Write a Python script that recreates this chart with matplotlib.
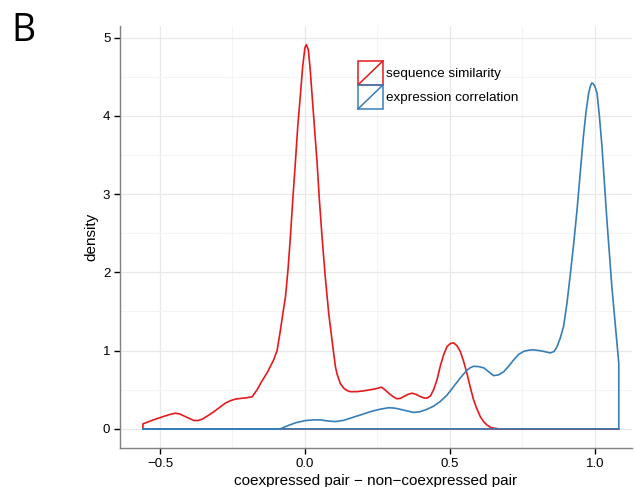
import matplotlib
matplotlib.use("Agg")
from matplotlib import pyplot as plt
from matplotlib.legend_handler import HandlerBase
from matplotlib.patches import Rectangle
from matplotlib.lines import Line2D

plt.rcParams["font.family"] = ["Liberation Sans", "DejaVu Sans"]

# density of sequence similarity difference
seq_x = [-0.559, -0.559, -0.516, -0.47, -0.447, -0.432, -0.418, -0.40, -0.383, -0.368, -0.354,
         -0.334, -0.314, -0.294, -0.274, -0.257, -0.24, -0.22, -0.205, -0.182, -0.165, -0.15,
         -0.13, -0.108, -0.096, -0.085, -0.075, -0.067, -0.058, -0.05, -0.042, -0.033, -0.025,
         -0.016, -0.008, 0.0, 0.005, 0.012, 0.018, 0.025, 0.033, 0.042, 0.05, 0.059, 0.07,
         0.082, 0.094, 0.105, 0.111, 0.122, 0.134, 0.145, 0.157, 0.18, 0.203, 0.237, 0.252,
         0.264, 0.276, 0.289, 0.305, 0.318, 0.33, 0.341, 0.355, 0.37, 0.384, 0.398, 0.41,
         0.421, 0.433, 0.444, 0.456, 0.467, 0.478, 0.49, 0.502, 0.513, 0.525, 0.536, 0.547,
         0.559, 0.57, 0.582, 0.594, 0.605, 0.617, 0.628, 0.64, 0.651, 0.67, 1.083]
seq_y = [0.0, 0.064, 0.124, 0.18, 0.2, 0.19, 0.166, 0.135, 0.106, 0.108, 0.124,
         0.17, 0.22, 0.275, 0.33, 0.36, 0.38, 0.39, 0.395, 0.41, 0.5, 0.6,
         0.72, 0.88, 1.0, 1.25, 1.5, 1.69, 2.05, 2.46, 2.92, 3.4, 3.85,
         4.25, 4.62, 4.87, 4.91, 4.84, 4.6, 4.25, 3.85, 3.4, 2.92, 2.46, 1.95,
         1.48, 1.12, 0.8, 0.7, 0.58, 0.52, 0.49, 0.475, 0.476, 0.486, 0.507, 0.52,
         0.533, 0.5, 0.456, 0.41, 0.384, 0.39, 0.413, 0.44, 0.456, 0.44, 0.413, 0.395,
         0.392, 0.42, 0.5, 0.63, 0.8, 0.94, 1.05, 1.09, 1.1, 1.06, 0.99, 0.87,
         0.71, 0.54, 0.37, 0.25, 0.157, 0.09, 0.05, 0.02, 0.01, 0.0, 0.0]

# density of expression correlation difference
expr_x = [-0.559, -0.085, -0.06, -0.03, 0.0, 0.03, 0.053, 0.08, 0.105, 0.135, 0.168, 0.198,
          0.226, 0.258, 0.289, 0.31, 0.329, 0.352, 0.375, 0.398, 0.421, 0.444, 0.467, 0.49,
          0.513, 0.536, 0.559, 0.57, 0.582, 0.6, 0.617, 0.634, 0.651, 0.668, 0.686, 0.703,
          0.72, 0.737, 0.755, 0.772, 0.789, 0.818, 0.847, 0.86, 0.87, 0.881, 0.892, 0.904,
          0.915, 0.927, 0.939, 0.95, 0.961, 0.97, 0.979, 0.985, 0.99, 0.995, 1.0, 1.008,
          1.016, 1.025, 1.042, 1.059, 1.083, 1.083]
expr_y = [0.0, 0.0, 0.04, 0.08, 0.105, 0.115, 0.115, 0.1, 0.093, 0.11, 0.15, 0.185,
          0.22, 0.25, 0.27, 0.265, 0.25, 0.23, 0.21, 0.22, 0.25, 0.29, 0.35, 0.43,
          0.54, 0.65, 0.75, 0.78, 0.8, 0.795, 0.78, 0.73, 0.68, 0.69, 0.73, 0.8,
          0.88, 0.95, 0.99, 1.005, 1.01, 0.995, 0.97, 0.99, 1.05, 1.16, 1.3, 1.6,
          1.95, 2.35, 2.8, 3.27, 3.74, 4.05, 4.29, 4.38, 4.42, 4.41, 4.38, 4.29,
          4.0, 3.61, 2.67, 1.82, 0.84, 0.0]

series = [("sequence similarity", "#E41A1C", seq_x, seq_y),
          ("expression correlation", "#377EB8", expr_x, expr_y)]


class KeyHandler(HandlerBase):
    def create_artists(self, legend, orig_handle, xdescent, ydescent, width, height, fontsize, trans):
        c = orig_handle.get_color()
        box = Rectangle((-xdescent, -ydescent), width, height, fill=False, edgecolor=c,
                        lw=1.1, transform=trans)
        diag = Line2D([-xdescent, -xdescent + width], [-ydescent, -ydescent + height],
                      color=c, lw=1.1, transform=trans)
        return [box, diag]


fig = plt.figure(figsize=(6.35, 4.87), dpi=100)
ax = fig.add_axes([0.189, 0.080, 0.806, 0.867])

handles = []
for name, color, xs, ys in series:
    px = list(xs) + [xs[-1], xs[0]]
    py = list(ys) + [0, 0]
    line, = ax.plot(px, py, color=color, lw=1.2, label=name, solid_joinstyle="round")
    handles.append(line)

ax.set_xlim(-0.638, 1.128)
ax.set_ylim(-0.245, 5.15)
ax.set_xticks([-0.5, 0.0, 0.5, 1.0])
ax.set_xticklabels(["\u22120.5", "0.0", "0.5", "1.0"])
ax.set_yticks([0, 1, 2, 3, 4, 5])
ax.set_xticks([-0.25, 0.25, 0.75], minor=True)
ax.set_yticks([0.5, 1.5, 2.5, 3.5, 4.5], minor=True)
ax.grid(which="major", color="#e8e8e8", lw=0.9)
ax.grid(which="minor", color="#f4f4f4", lw=0.8)
ax.set_axisbelow(True)
ax.tick_params(which="major", direction="out", length=4, width=1, color="black",
               labelsize=9.5, pad=3)
ax.tick_params(which="minor", length=0)
for side in ["top", "right"]:
    ax.spines[side].set_visible(False)
for side in ["left", "bottom"]:
    ax.spines[side].set_color("#808080")
    ax.spines[side].set_linewidth(1.0)

ax.set_xlabel("coexpressed pair \u2212 non\u2212coexpressed pair", fontsize=11, labelpad=3)
ax.set_ylabel("density", fontsize=11, labelpad=3)

ax.legend(handles=handles, handler_map={Line2D: KeyHandler()}, loc="upper left",
          bbox_to_anchor=(0.465, 0.917), frameon=False, fontsize=9.7, borderpad=0,
          handlelength=1.85, handleheight=2.37, labelspacing=0.0, handletextpad=0.2,
          borderaxespad=0)

fig.text(0.018, 0.975, "B", fontsize=27, family="Open Sans", va="top", ha="left")

fig.savefig("out.png", dpi=100)
